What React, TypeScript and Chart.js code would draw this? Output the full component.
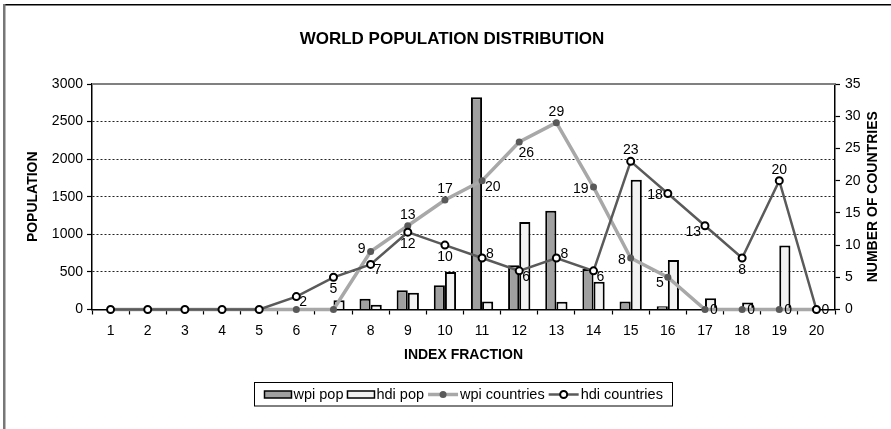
import React, { useEffect, useRef } from 'react';
import { Chart, registerables } from 'chart.js';

Chart.register(...registerables);

const categories = ['1', '2', '3', '4', '5', '6', '7', '8', '9', '10', '11', '12', '13', '14', '15', '16', '17', '18', '19', '20'];
const wpiPop = [0, 0, 0, 0, 0, 0, 0, 142, 256, 323, 2824, 588, 1314, 540, 106, 44, 0, 0, 0, 0];
const hdiPop = [0, 0, 0, 0, 0, 0, 123, 62, 222, 500, 106, 1164, 102, 368, 1726, 660, 150, 93, 850, 0];
const wpiCountries = [0, 0, 0, 0, 0, 0, 0, 9, 13, 17, 20, 26, 29, 19, 8, 5, 0, 0, 0, 0];
const hdiCountries = [0, 0, 0, 0, 0, 2, 5, 7, 12, 10, 8, 6, 8, 6, 23, 18, 13, 8, 20, 0];

// label placement codes (style only): '' none, a above, b below, l left, r right, ra right-above, rb right-below, lb left-below, br below-right
const wpiLabelPos = ['', '', '', '', '', '', '', 'la', 'a', 'a', 'rb', 'br', 'a', 'l', 'l', 'lb', 'r', 'r', 'r', ''];
const hdiLabelPos = ['', '', '', '', '', 'rb', 'b', 'rb', 'b', 'b', 'ra', 'rb', 'ra', 'rb', 'a', 'l', 'lb', 'b', 'a', 'r'];

const TITLE = 'WORLD POPULATION DISTRIBUTION';
const RIGHT_TITLE = 'NUMBER OF COUNTRIES';
const FONT = '"Liberation Sans", Arial, Helvetica, sans-serif';

const labelPlugin = {
  id: 'pointLabels',
  afterDatasetsDraw(chart: any) {
    const ctx = chart.ctx;
    chart.data.datasets.forEach((ds: any, i: number) => {
      const pos = ds.labelPos;
      if (!pos) return;
      const meta = chart.getDatasetMeta(i);
      ctx.save();
      ctx.font = `14px ${FONT}`;
      ctx.fillStyle = '#000';
      ctx.textBaseline = 'middle';
      meta.data.forEach((pt: any, j: number) => {
        const p = pos[j];
        if (!p) return;
        const text = String(ds.data[j]);
        let x = pt.x;
        let y = pt.y;
        let align: CanvasTextAlign = 'center';
        switch (p) {
          case 'a': y -= 11; break;
          case 'b': y += 12; break;
          case 'br': x += 7; y += 11; break;
          case 'l': x -= 5; y += 2; align = 'right'; break;
          case 'la': x -= 5; y -= 2; align = 'right'; break;
          case 'lb': x -= 4; y += 6; align = 'right'; break;
          case 'r': x += 5; y += 1; align = 'left'; break;
          case 'ra': x += 4; y -= 4; align = 'left'; break;
          case 'rb': x += 3; y += 6; align = 'left'; break;
        }
        ctx.textAlign = align;
        ctx.fillText(text, x, y);
      });
      ctx.restore();
    });
  },
};

const decorPlugin = {
  id: 'decor',
  afterDraw(chart: any) {
    const ctx = chart.ctx;
    const ca = chart.chartArea;
    ctx.save();
    // outer frame (top and left visible)
    ctx.fillStyle = '#000';
    ctx.fillRect(4, 4, chart.width - 4, 1.5);
    ctx.fillStyle = '#777';
    ctx.fillRect(3, 4, 2.5, chart.height - 4);
    // top border of plot area
    ctx.strokeStyle = '#808080';
    ctx.lineWidth = 2;
    ctx.beginPath();
    ctx.moveTo(ca.left, ca.top);
    ctx.lineTo(ca.right, ca.top);
    ctx.stroke();
    // title
    ctx.fillStyle = '#000';
    ctx.font = `bold 17px ${FONT}`;
    ctx.textAlign = 'center';
    ctx.textBaseline = 'middle';
    ctx.fillText(TITLE, 452, 39);

    // right axis title, reading bottom to top
    ctx.save();
    ctx.font = `bold 14px ${FONT}`;
    ctx.translate(chart.width - 18, (ca.top + ca.bottom) / 2);
    ctx.rotate(-Math.PI / 2);
    ctx.fillText(RIGHT_TITLE, 0, 0);
    ctx.restore();

    // legend
    ctx.font = `14.5px ${FONT}`;
    const items = chart.data.datasets.map((ds: any) => ({
      ds,
      sw: ds.type === 'bar' ? 27 : 30,
      tw: ctx.measureText(ds.label).width,
    }));
    const gapAfterSwatch = 2;
    const gapBetween = 4;
    let total = 0;
    items.forEach((it: any, k: number) => {
      total += it.sw + gapAfterSwatch + it.tw + (k < items.length - 1 ? gapBetween : 0);
    });
    const cx = (ca.left + ca.right) / 2;
    const boxX = Math.round(cx - total / 2 - 10) + 0.5;
    const boxW = Math.round(total + 20);
    const boxY = 382.5;
    const boxH = 23.5;
    ctx.fillStyle = '#fff';
    ctx.fillRect(boxX, boxY, boxW, boxH);
    ctx.strokeStyle = '#000';
    ctx.lineWidth = 1;
    ctx.strokeRect(boxX, boxY, boxW, boxH);
    const cy = 394.5;
    let x = boxX + 10;
    items.forEach((it: any) => {
      const ds = it.ds;
      if (ds.type === 'bar') {
        ctx.fillStyle = ds.backgroundColor;
        ctx.fillRect(x, cy - 3.5, it.sw, 7);
        ctx.strokeStyle = '#000';
        ctx.lineWidth = 1.5;
        ctx.strokeRect(x, cy - 3.5, it.sw, 7);
      } else {
        ctx.strokeStyle = ds.borderColor;
        ctx.lineWidth = ds.borderWidth;
        ctx.beginPath();
        ctx.moveTo(x, cy);
        ctx.lineTo(x + it.sw, cy);
        ctx.stroke();
        ctx.beginPath();
        ctx.arc(x + it.sw / 2, cy, ds.pointRadius, 0, Math.PI * 2);
        ctx.fillStyle = ds.pointBackgroundColor;
        ctx.fill();
        if (ds.pointBorderWidth) {
          ctx.strokeStyle = ds.pointBorderColor;
          ctx.lineWidth = ds.pointBorderWidth;
          ctx.stroke();
        }
      }
      x += it.sw + gapAfterSwatch;
      ctx.fillStyle = '#000';
      ctx.textAlign = 'left';
      ctx.textBaseline = 'middle';
      ctx.fillText(ds.label, x, cy);
      x += it.tw + gapBetween;
    });
    ctx.restore();
  },
};

const plain = (v: any) => String(v);

export default function App() {
  const canvasRef = useRef<HTMLCanvasElement | null>(null);

  useEffect(() => {
    if (!canvasRef.current) return;
    Chart.defaults.font.family = FONT;
    Chart.defaults.color = '#000';
    const chart = new Chart(canvasRef.current, {
      type: 'bar',
      data: {
        labels: categories,
        datasets: [
          {
            type: 'bar',
            label: 'wpi pop',
            data: wpiPop,
            backgroundColor: '#a0a0a0',
            borderColor: '#000',
            borderWidth: 2,
            yAxisID: 'y',
            order: 2,
            categoryPercentage: 0.6,
            barPercentage: 1,
          },
          {
            type: 'bar',
            label: 'hdi pop',
            data: hdiPop,
            backgroundColor: '#f2f2f2',
            borderColor: '#000',
            borderWidth: 2,
            yAxisID: 'y',
            order: 3,
            categoryPercentage: 0.6,
            barPercentage: 1,
          },
          {
            type: 'line',
            label: 'wpi countries',
            data: wpiCountries,
            yAxisID: 'y1',
            borderColor: '#a8a8a8',
            borderWidth: 3.5,
            pointRadius: 3.5,
            pointBackgroundColor: '#595959',
            pointBorderColor: '#595959',
            pointBorderWidth: 0,
            tension: 0,
            order: 1,
            clip: false,
            labelPos: wpiLabelPos,
          } as any,
          {
            type: 'line',
            label: 'hdi countries',
            data: hdiCountries,
            yAxisID: 'y1',
            borderColor: '#5a5a5a',
            borderWidth: 2.5,
            pointRadius: 3.5,
            pointBackgroundColor: '#fff',
            pointBorderColor: '#000',
            pointBorderWidth: 2,
            tension: 0,
            order: 0,
            clip: false,
            labelPos: hdiLabelPos,
          } as any,
        ],
      },
      options: {
        responsive: false,
        animation: false,
        devicePixelRatio: 1,
        layout: { padding: { top: 84, left: 0, right: 0, bottom: 0 } },
        plugins: {
          legend: { display: false },
          title: { display: false },
          tooltip: { enabled: false },
        },
        scales: {
          x: {
            type: 'category',
            offset: true,
            grid: { offset: true, drawOnChartArea: false, tickLength: 5, tickColor: '#000', tickWidth: 1.2 },
            border: { color: '#000', width: 1.5 },
            ticks: { color: '#000', padding: 8, font: { size: 14 }, maxRotation: 0, autoSkip: false },
            title: {
              display: true,
              text: 'INDEX FRACTION',
              color: '#000',
              font: { size: 14, weight: 'bold' },
              padding: { top: 0, bottom: 65.6 },
            },
            afterFit: (s: any) => { s.height = 119.5; },
          },
          y: {
            position: 'left',
            min: 0,
            max: 3000,
            ticks: { stepSize: 500, color: '#000', padding: 4, font: { size: 14 }, callback: plain },
            grid: { color: '#222', lineWidth: 1, tickLength: 5, tickColor: '#000', tickWidth: 1.2 },
            border: { color: '#000', width: 1.5, dash: [2, 2] },
            title: {
              display: true,
              text: 'POPULATION',
              color: '#000',
              font: { size: 14, weight: 'bold' },
              padding: { top: 24.6, bottom: 0 },
            },
            afterFit: (s: any) => { s.width = 92; },
          },
          y1: {
            position: 'right',
            min: 0,
            max: 35,
            ticks: { stepSize: 5, color: '#000', padding: 5, font: { size: 14 }, callback: plain },
            grid: { drawOnChartArea: false, tickLength: 5, tickColor: '#000', tickWidth: 1.2 },
            border: { color: '#000', width: 1.5 },
            title: { display: false },
            afterFit: (s: any) => { s.width = 56; },
          },
        },
      } as any,
      plugins: [labelPlugin, decorPlugin],
    });
    return () => chart.destroy();
  }, []);

  return (
    <div style={{ position: 'absolute', left: 0, top: 0, width: 891, height: 429, background: '#fff' }}>
      <canvas ref={canvasRef} width={891} height={429} style={{ display: 'block', width: 891, height: 429 }} />
    </div>
  );
}
